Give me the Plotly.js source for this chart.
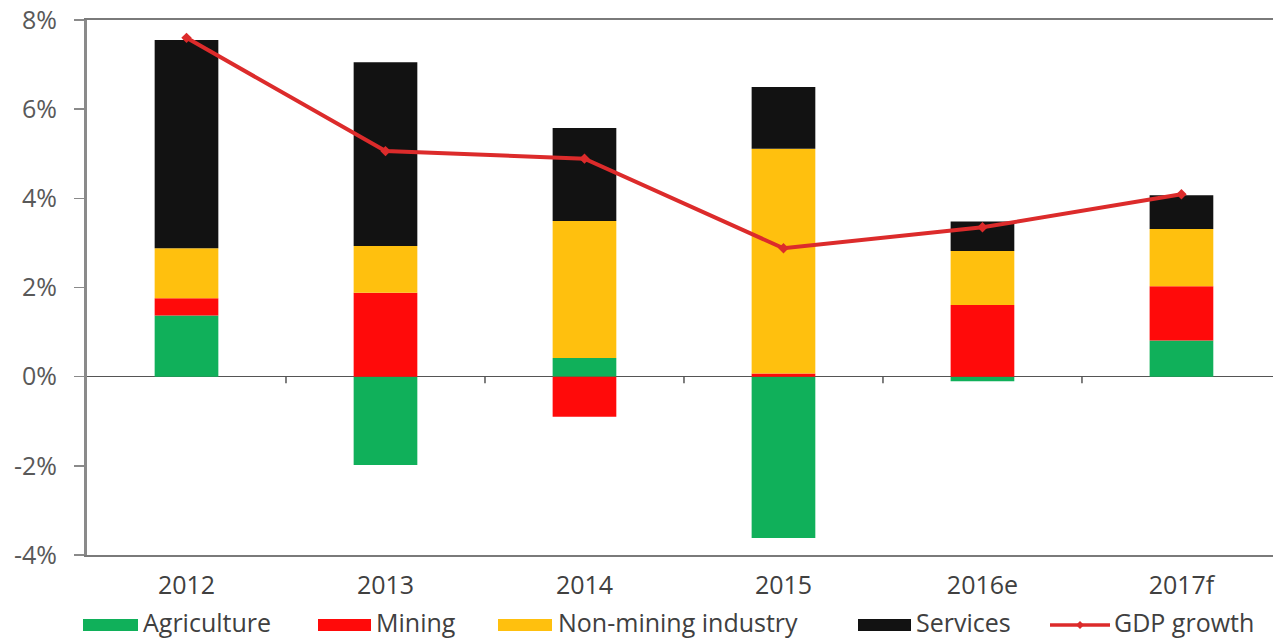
<!DOCTYPE html>
<html>
<head>
<meta charset="utf-8">
<script src="https://cdn.plot.ly/plotly-3.0.1.min.js"></script>
<style>html,body{margin:0;padding:0;background:#fff;}#chart{width:1273px;height:638px;}</style>
</head>
<body>
<div id="chart"></div>
<script>
const categories = ["2012", "2013", "2014", "2015", "2016e", "2017f"];
const agriculture = [1.37, -1.98, 0.42, -3.62, -0.10, 0.81];
const mining = [0.39, 1.88, -0.90, 0.07, 1.61, 1.22];
const nonMining = [1.12, 1.05, 3.07, 5.04, 1.21, 1.28];
const services = [4.67, 4.12, 2.09, 1.39, 0.66, 0.76];
const gdpGrowth = [7.6, 5.06, 4.89, 2.88, 3.35, 4.09];
const yTicks = [-4, -2, 0, 2, 4, 6, 8];

const font = "Open Sans, sans-serif";
const W = 1273, H = 638, ML = 87, MT = 20, MB = 83;
const plotW = W - ML, plotH = H - MT - MB;
const px2x = p => (p - ML) / plotW;
const px2y = p => (H - MB - p) / plotH;

const colors = {agri: "#10B05A", mining: "#FF0A0A", nonMining: "#FFC00E", services: "#121212", gdp: "#DC2B2B"};

function barTrace(name, values, color) {
  return {type: "bar", name: name, x: categories, y: values,
    marker: {color: color, line: {width: 0}}, hoverinfo: "y+name", showlegend: false};
}
const traces = [
  barTrace("Agriculture", agriculture, colors.agri),
  barTrace("Mining", mining, colors.mining),
  barTrace("Non-mining industry", nonMining, colors.nonMining),
  barTrace("Services", services, colors.services),
  {type: "scatter", mode: "lines+markers", name: "GDP growth", x: categories, y: gdpGrowth, showlegend: false,
    line: {color: colors.gdp, width: 4}, marker: {symbol: "diamond", size: 8, color: colors.gdp}}
];

const shapes = [];
for (let i = 0; i < categories.length - 1; i++) {
  shapes.push({type: "line", xref: "x", yref: "y", x0: i + 0.5, x1: i + 0.5, y0: 0, y1: -0.15,
    line: {color: "#555", width: 1.5}});
}

// custom legend (pixel layout positions)
const legendSlots = [
  {sym0: 83, sym1: 138, text: 141},
  {sym0: 318, sym1: 371, text: 374},
  {sym0: 498, sym1: 552, text: 556},
  {sym0: 858, sym1: 911, text: 914},
  {sym0: 1050, sym1: 1110, text: 1112}
];
const symY = 625, textY = 622;
const annotations = [];
traces.forEach((t, i) => {
  const s = legendSlots[i];
  const col = t.type === "bar" ? t.marker.color : t.line.color;
  if (t.type === "bar") {
    shapes.push({type: "rect", xref: "paper", yref: "paper",
      x0: px2x(s.sym0), x1: px2x(s.sym1), y0: px2y(symY + 6), y1: px2y(symY - 6),
      fillcolor: col, line: {width: 0}});
  } else {
    shapes.push({type: "line", xref: "paper", yref: "paper",
      x0: px2x(s.sym0), x1: px2x(s.sym1), y0: px2y(symY), y1: px2y(symY),
      line: {color: col, width: 3.5}});
    const cx = (s.sym0 + s.sym1) / 2;
    shapes.push({type: "path", xref: "paper", yref: "paper",
      path: `M ${px2x(cx - 4)} ${px2y(symY)} L ${px2x(cx)} ${px2y(symY - 4)} L ${px2x(cx + 4)} ${px2y(symY)} L ${px2x(cx)} ${px2y(symY + 4)} Z`,
      fillcolor: col, line: {width: 0}});
  }
  annotations.push({xref: "paper", yref: "paper", x: px2x(s.text), y: px2y(textY),
    xanchor: "left", yanchor: "middle", showarrow: false, text: t.name,
    font: {size: 25, color: "#404040", family: font}});
});

const layout = {
  width: W, height: H,
  margin: {l: ML, r: 0, t: MT, b: MB, autoexpand: false},
  paper_bgcolor: "#fff", plot_bgcolor: "#fff",
  barmode: "relative", bargap: 0.68,
  showlegend: false,
  font: {family: font, color: "#404040"},
  xaxis: {type: "category", range: [-0.5, 5.46], showgrid: false, zeroline: false,
    showline: true, mirror: true, linecolor: "#7a7a7a", linewidth: 2, ticks: "",
    tickfont: {size: 25, color: "#404040", family: font}, ticklabelstandoff: 7, automargin: false},
  yaxis: {range: [-4, 8], tickvals: yTicks, ticktext: yTicks.map(v => v + "%"),
    showgrid: false, zeroline: true, zerolinecolor: "#555", zerolinewidth: 1.5,
    showline: true, linecolor: "#8a8a8a", linewidth: 3, ticks: "outside", ticklen: 10,
    tickcolor: "#8a8a8a", tickwidth: 1.5, ticklabelstandoff: 12, automargin: false,
    tickfont: {size: 25, color: "#595959", family: font}},
  shapes: shapes,
  annotations: annotations
};
Plotly.newPlot("chart", traces, layout, {displayModeBar: false, staticPlot: true});
</script>
</body>
</html>
